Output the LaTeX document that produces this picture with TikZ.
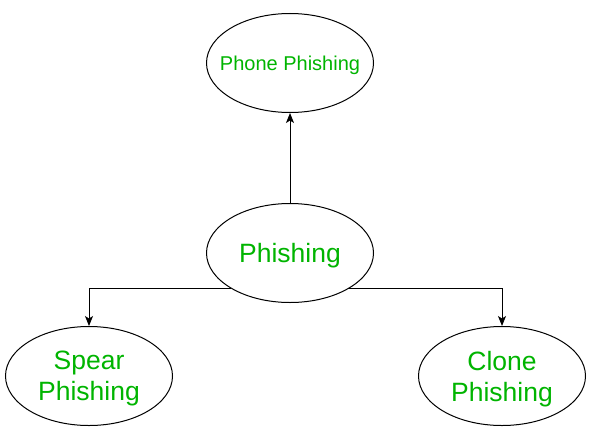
\documentclass[tikz,border=0pt]{standalone}
\usepackage{fontspec}
\setmainfont{Liberation Sans}
\usetikzlibrary{shapes.geometric,arrows.meta}
\definecolor{txtgreen}{RGB}{0,180,0}
\begin{document}
\begin{tikzpicture}[x=1pt,y=-1pt,
  ell/.style={ellipse, draw, line width=1pt, minimum width=167pt, minimum height=99pt,
    inner sep=0pt, text=txtgreen, align=center, text depth=0pt},
  big/.style={font=\fontsize{26.5}{31}\selectfont},
  small/.style={font=\fontsize{20}{23}\selectfont},
  conn/.style={draw, line width=1pt, -{Stealth[length=10pt,width=8pt,inset=2.5pt]}}]
\useasboundingbox (0,0) rectangle (593,436);
\node[ell, small] (phone) at (290,63) {\makebox[100pt]{Phone Phishing}};
\node[ell, big] (ph) at (290,253) {Phishing};
\node[ell, big] (spear) at (89,376) {Spear\\Phishing};
\node[ell, big] (clone) at (502,376) {Clone\\Phishing};
\draw[conn] (ph.north) -- (phone.south);
\draw[conn] (ph.south west) -| (spear.north);
\draw[conn] (ph.south east) -| (clone.north);
\end{tikzpicture}
\end{document}
